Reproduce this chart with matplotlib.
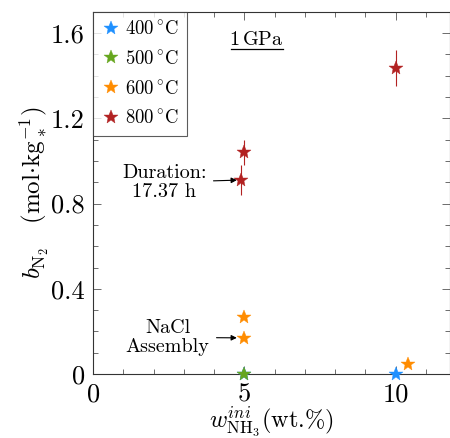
import matplotlib
matplotlib.use("Agg")
import matplotlib.pyplot as plt
from matplotlib.ticker import MultipleLocator

plt.rcParams['font.family'] = 'serif'
plt.rcParams['font.serif'] = ['cmr10']
plt.rcParams['mathtext.fontset'] = 'cm'
plt.rcParams['axes.formatter.use_mathtext'] = True

# data
x400 = [5, 10]
y400 = [0, 0]
x500 = [5]
y500 = [0]
x600 = [5, 5, 10.4]
y600 = [0.17, 0.27, 0.045]
x800 = [4.9, 5, 10]
y800 = [0.91, 1.04, 1.435]
e800 = [0.07, 0.06, 0.085]

labels = [r'400$\,^{\circ}$C', r'500$\,^{\circ}$C', r'600$\,^{\circ}$C', r'800$\,^{\circ}$C']
colors = ['#1e90ff', '#66a61e', '#ff8c00', '#b22222']

fig = plt.figure(figsize=(4.5, 4.38), dpi=100)
ax = fig.add_axes([0.207, 0.146, 0.793, 0.827])

ms = 10.5
ax.plot(x400, y400, '*', color=colors[0], ms=ms, mec=colors[0], mew=0.3, label=labels[0], clip_on=False, zorder=3)
ax.plot(x500, y500, '*', color=colors[1], ms=ms, mec=colors[1], mew=0.3, label=labels[1], clip_on=False, zorder=4)
ax.plot(x600, y600, '*', color=colors[2], ms=ms, mec=colors[2], mew=0.3, label=labels[2], clip_on=False, zorder=3)
ax.errorbar(x800, y800, yerr=e800, fmt='none', ecolor=colors[3], elinewidth=0.8, capsize=0, zorder=2)
ax.plot(x800, y800, '*', color=colors[3], ms=ms, mec=colors[3], mew=0.3, label=labels[3], zorder=3)

ax.set_xlim(0, 11.8)
ax.set_ylim(0, 1.7)
ax.xaxis.set_minor_locator(MultipleLocator(1))
ax.yaxis.set_minor_locator(MultipleLocator(0.1))
ax.set_xticks([0, 5, 10])
ax.set_xticklabels(['0', '5', '10'])
ax.set_yticks([0, 0.4, 0.8, 1.2, 1.6])
ax.set_yticklabels(['0', '0.4', '0.8', '1.2', '1.6'])
ax.tick_params(which='both', direction='in', top=True, right=True, labelsize=19, color='#555555')
ax.tick_params(which='major', length=6, width=0.6, pad=6)
ax.tick_params(which='minor', length=3.5, width=0.6)
for s in ax.spines.values():
    s.set_linewidth(0.8)
    s.set_color('#333333')

ax.set_xlabel(r'$w^{ini}_{\mathrm{NH_3}}$(wt.%)', fontsize=17.5, labelpad=-1)
ax.set_ylabel(r'$b_{\mathrm{N_2}}\quad(\mathrm{mol{\cdot}kg_*^{-1}})$', fontsize=18, labelpad=0)

leg = ax.legend(loc='upper left', fontsize=13.5, frameon=True, fancybox=False,
                borderaxespad=0, handlelength=1.0, handletextpad=0.25,
                borderpad=0.45, labelspacing=0.62)
leg.get_frame().set_edgecolor('#333333')
leg.get_frame().set_linewidth(0.8)

ax.text(5.4, 1.57, r'1$\,$GPa', fontsize=14.5, ha='center', va='center')
ax.plot([4.55, 6.27], [1.525, 1.525], color='black', lw=0.9)

ax.annotate('Duration:\n17.37 h', xy=(4.75, 0.91), xytext=(3.75, 0.90),
            ha='right', va='center', multialignment='center', fontsize=14.5, linespacing=1.05,
            arrowprops=dict(arrowstyle='-|>', color='black', lw=0.8, shrinkA=3, shrinkB=0,
                            mutation_scale=8))
ax.annotate('NaCl\nAssembly', xy=(4.75, 0.17), xytext=(3.85, 0.172),
            ha='right', va='center', multialignment='center', fontsize=14.5, linespacing=1.05,
            arrowprops=dict(arrowstyle='-|>', color='black', lw=0.8, shrinkA=3, shrinkB=0,
                            mutation_scale=8))

fig.savefig('out.png', dpi=100)
